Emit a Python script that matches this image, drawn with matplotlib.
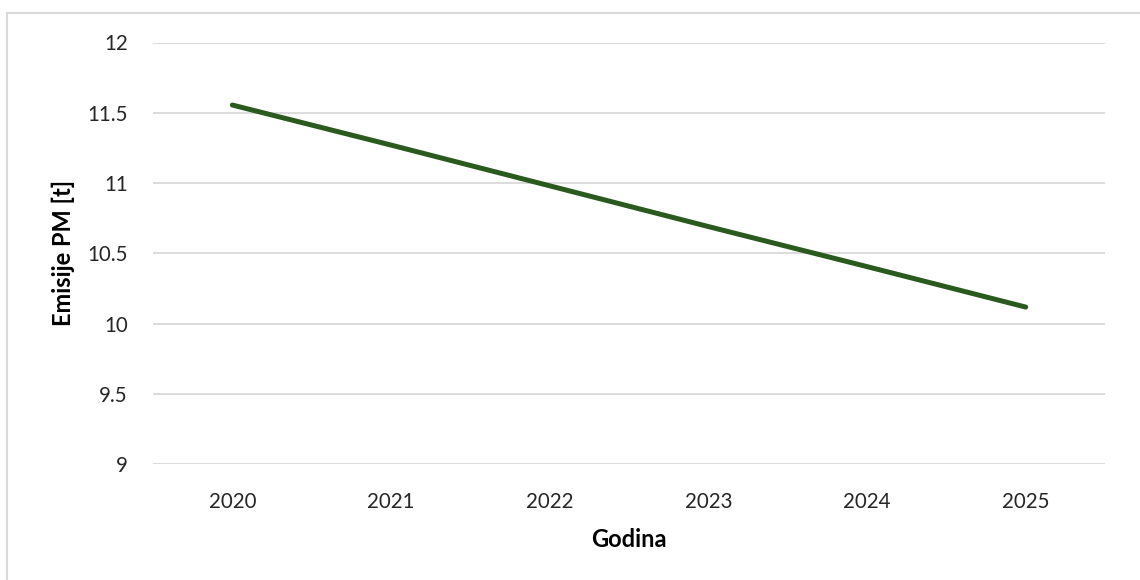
import matplotlib.pyplot as plt
from matplotlib.lines import Line2D

# --- Data ---
years = ["2020", "2021", "2022", "2023", "2024", "2025"]
emissions = [11.555, 11.27, 10.98, 10.69, 10.405, 10.117]

# --- Style ---
LINE_COLOR = "#2A5A1E"
GRID_COLOR = "#D9D9D9"
TEXT_COLOR = "#262626"
plt.rcParams["font.family"] = ["Lato", "DejaVu Sans"]

fig = plt.figure(figsize=(11.4, 5.8), dpi=100)
ax = fig.add_axes([153 / 1140, 1 - 464 / 580, (1105 - 153) / 1140, (464 - 42.5) / 580])

x = list(range(len(years)))
ax.plot(x, emissions, color=LINE_COLOR, linewidth=3.6, solid_capstyle="round")

ax.set_xlim(-0.5, len(years) - 0.5)
ax.set_ylim(9, 12)
ax.set_xticks(x)
ax.set_xticklabels(years)
ax.set_yticks([9, 9.5, 10, 10.5, 11, 11.5, 12])
ax.set_yticklabels(["9", "9.5", "10", "10.5", "11", "11.5", "12"])

ax.grid(axis="y", color=GRID_COLOR, linewidth=1.3)
ax.set_axisbelow(True)
for s in ax.spines.values():
    s.set_visible(False)
ax.tick_params(axis="both", length=0, labelsize=14.8, colors=TEXT_COLOR)
ax.tick_params(axis="y", pad=18)
ax.tick_params(axis="x", pad=20)

ax.set_xlabel("Godina", fontsize=17, fontweight="bold", color="black", labelpad=12)
ax.set_ylabel("Emisije PM [t]", fontsize=17, fontweight="bold", color="black", labelpad=9)

# outer chart border (top and left visible)
fig.add_artist(Line2D([7 / 1140, 1], [1 - 13 / 580, 1 - 13 / 580], color=GRID_COLOR, linewidth=1.5))
fig.add_artist(Line2D([7 / 1140, 7 / 1140], [0, 1 - 13 / 580], color=GRID_COLOR, linewidth=1.5))

fig.savefig("out.png", dpi=100, facecolor="white")
